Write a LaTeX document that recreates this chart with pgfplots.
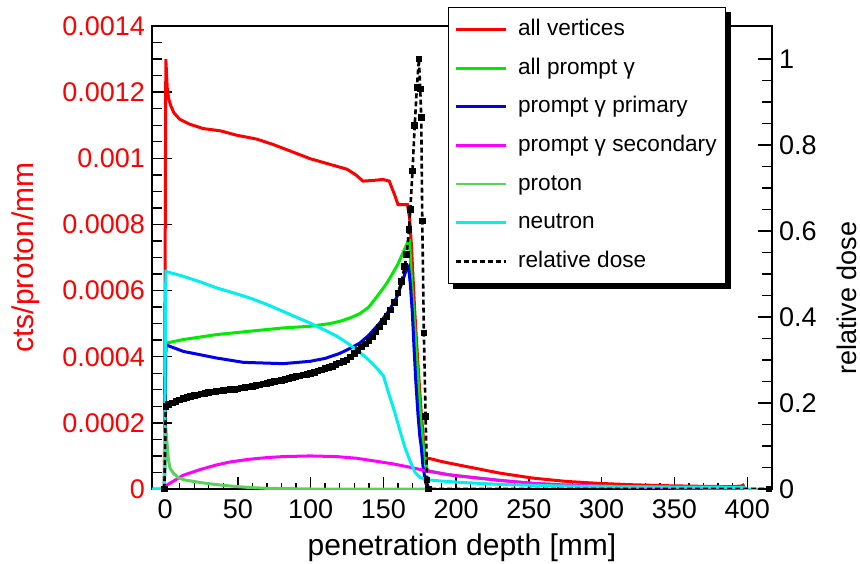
\documentclass[border=0pt]{standalone}
\usepackage{fontspec}
\setmainfont{Liberation Sans}
\usepackage{pgfplots}
\pgfplotsset{compat=1.18}
\definecolor{rred}{RGB}{255,0,0}
\definecolor{rgreen}{RGB}{0,235,0}
\definecolor{rblue}{RGB}{0,0,235}
\definecolor{rmagenta}{RGB}{255,0,255}
\definecolor{rproton}{RGB}{90,210,90}
\definecolor{rcyan}{RGB}{0,240,240}
\newcommand{\tickfont}{\fontsize{13.5bp}{16bp}\selectfont}
\newcommand{\titlefont}{\fontsize{15bp}{18bp}\selectfont}
\begin{document}
\begin{tikzpicture}
\useasboundingbox (-76bp,-37.5bp) rectangle (354bp,244.5bp);
\begin{axis}[
  scale only axis, width=310bp, height=231.5bp, at={(0,0)}, anchor=south west,
  xmin=-9, xmax=417, ymin=0, ymax=0.0014,
  tick pos=left, tick align=inside,
  xtick={0,50,100,150,200,250,300,350,400}, minor x tick num=4,
  ytick={0,0.0002,0.0004,0.0006,0.0008,0.001,0.0012,0.0014}, minor y tick num=3,
  scaled y ticks=false,
  /pgf/number format/assume math mode=true,
  tick label style={font=\tickfont},
  yticklabel style={red, /pgf/number format/fixed, /pgf/number format/precision=4},
  xticklabel style={yshift=-2bp},
  major tick length=10bp, minor tick length=5bp,
  every major x tick/.append style={/pgfplots/major tick length=6bp},
  every minor x tick/.append style={/pgfplots/minor tick length=3bp},
  axis line style={line width=0.8bp},
  every tick/.style={black, line width=0.7bp},
  xlabel={penetration depth [mm]}, ylabel={cts/proton/mm},
  xlabel style={font=\titlefont, at={(axis description cs:0.5,-0.127)}, anchor=center},
  ylabel style={red, font=\titlefont, at={(axis description cs:-0.203,0.5)}, anchor=center},
  legend cell align=left,
  legend image code/.code={\draw[#1, line width=1.4bp] (0bp,0bp) -- (25bp,0bp);},
  legend style={name=leg, at={(axis description cs:0.477,1.041)}, anchor=north west,
    draw=black, line width=0.6bp, fill=white,
    font=\fontsize{11.3bp}{13bp}\selectfont,
    row sep=5.3bp, inner xsep=3bp, inner ysep=4bp,
    /tikz/every odd column/.append style={column sep=4bp},
    nodes={inner sep=1.5bp, text height=8.5bp, text depth=2.5bp}},
]
\addplot[rred, line width=1.5bp] coordinates {
(-9,0) (-0.5,0) (0.5,0.0013) (1.5,0.00121) (2.5,0.00118) (4,0.001158) (6,0.001138)
(10,0.001118) (17,0.001103) (26,0.00109) (38,0.001083) (49,0.00107) (63,0.001058)
(74,0.001042) (86,0.001022) (99.5,0.000999) (113,0.000982) (125,0.000967) (131,0.00095)
(136,0.000931) (143,0.000933) (149.7,0.000936) (154,0.000931) (158,0.000886) (160,0.00086)
(166.5,0.00086) (168,0.00082) (169.2,0.00074) (171.5,0.00054) (173.7,0.00038) (176,0.00023)
(178.3,0.00011) (180,0.000092) (182,0.000092) (190,0.000083) (207,0.000068) (230,0.000048)
(252.6,0.000033) (275.5,0.000023) (298,0.000017) (320,0.000013) (344,0.00001) (370,0.000008)
(390,0.000007) (396,0.000009) (398,0.000014)
};
\addlegendentry{all vertices}
\addplot[rgreen, line width=1.5bp] coordinates {
(-0.5,0) (0.5,0.000441) (12.6,0.000452) (35.5,0.000467) (58,0.000477) (81,0.000487)
(99.5,0.000492) (113,0.0005) (120,0.000507) (127,0.000517) (133.7,0.00053) (140,0.00055)
(147.5,0.000593) (152,0.00062) (156.6,0.000654) (160,0.00068) (163.4,0.000714) (166.9,0.000748)
(168,0.00075) (169.2,0.00064) (171.5,0.00049) (173.7,0.00034) (176,0.00019) (178.3,0.0001)
(180,0.000058) (182,0.000054) (195,0.000043) (207,0.000037) (230,0.000026) (253,0.000017)
(275,0.000012) (298,0.000009) (344,0.000004) (398,0.000002)
};
\addlegendentry{all prompt γ}
\addplot[rblue, line width=1.5bp] coordinates {
(-0.5,0) (0.5,0.000436) (12.6,0.000416) (35.5,0.000396) (53.7,0.000383) (81,0.000379)
(99.5,0.000386) (110,0.000395) (120,0.00041) (127,0.000425) (133.7,0.000441) (140,0.000465)
(147.5,0.000502) (154,0.00054) (159,0.000578) (162.5,0.00062) (165.8,0.000664) (167.3,0.000672)
(168.5,0.00062) (169.9,0.000532) (171,0.000431) (172.2,0.00033) (173.7,0.000229) (175,0.00016)
(176,0.000128) (177.2,0.000068) (179,0.00002) (180.6,0) (182,0)
};
\addlegendentry{prompt γ primary}
\addplot[rmagenta, line width=1.5bp] coordinates {
(-0.5,0) (0.5,0.00001) (5,0.000022) (12.6,0.000042) (25,0.00006) (35.5,0.000073) (45,0.000082)
(58,0.00009) (70,0.000095) (81,0.000098) (99.5,0.0001) (118,0.000098) (131.5,0.000093)
(145,0.000084) (156.6,0.000076) (168,0.000066) (179.5,0.000055) (195,0.000043) (207,0.000037)
(230,0.000026) (253,0.000017) (275,0.000012) (298,0.000009) (320,0.000006) (344,0.000004)
(370,0.000003) (398,0.000002)
};
\addlegendentry{prompt γ secondary}
\addplot[rproton, line width=1.5bp] coordinates {
(-0.5,0) (0.5,0.000185) (1.5,0.00013) (2.3,0.000088) (3.4,0.000063) (5.7,0.000048) (9.1,0.000034)
(13.7,0.000027) (18.3,0.000024) (25,0.000019) (32,0.000015) (40,0.000011) (50,0.000007)
(60,0.000004) (70,0.000002) (85,0.000001) (100,0) (181,0)
};
\addlegendentry{proton}
\addplot[rcyan, line width=1.5bp] coordinates {
(-9,0) (-0.5,0) (0.5,0.000658) (12.6,0.000643) (25,0.000625) (35.5,0.000608) (47,0.000593)
(58,0.000578) (70,0.000558) (81,0.000537) (90,0.00052) (99.5,0.000502) (110,0.00048)
(118,0.000462) (125,0.000442) (131.5,0.000421) (138,0.000398) (145,0.000368) (150,0.000342)
(154.3,0.00028) (157.8,0.000232) (161.2,0.000179) (164.6,0.000128) (168,0.000088)
(171.5,0.000052) (175,0.000035) (180,0.000028) (190,0.000024) (207,0.000019) (230,0.000014)
(253,0.000011) (298,0.000007) (350,0.000006) (398,0.000005) (399,0) (417,0)
};
\addlegendentry{neutron}
\addlegendimage{black, dash pattern=on 2.5bp off 1.5bp}
\addlegendentry{relative dose}
\end{axis}
\fill[black] ([shift={(2.5bp,-2.5bp)}]leg.south west) rectangle ([xshift=2.5bp]leg.south east);
\fill[black] ([yshift=-2.5bp]leg.south east) rectangle ([shift={(2.5bp,-2.5bp)}]leg.north east);
\begin{axis}[
  scale only axis, width=310bp, height=231.5bp, at={(0,0)}, anchor=south west,
  xmin=-9, xmax=417, ymin=0, ymax=1.0769,
  hide x axis, axis y line*=right, tick align=inside,
  ytick={0,0.2,0.4,0.6,0.8,1}, minor y tick num=3,
  major tick length=7bp, minor tick length=5bp,
  /pgf/number format/assume math mode=true,
  yticklabel style={font=\tickfont},
  axis line style={line width=0.8bp},
  every tick/.style={black, line width=0.7bp},
  ylabel={relative dose},
  ylabel style={font=\fontsize{13.5bp}{16bp}\selectfont, at={(axis description cs:1.121,0.4125)}, anchor=center},
]
\addplot[black, line width=1.3bp, dash pattern=on 2.5bp off 1.5bp, mark=square*, mark size=1bp, mark options={solid}] coordinates {
(-0.5,0) (0.5,0.192) (2.5,0.196) (5,0.2) (7.5,0.204) (10,0.207) (12.5,0.21) (15,0.213)
(17.5,0.215) (20,0.217) (22.5,0.219) (25,0.221) (27.5,0.2225) (30,0.224) (32.5,0.2255)
(35,0.227) (37.5,0.228) (40,0.229) (42.5,0.23) (45,0.231) (47.5,0.232) (50,0.233)
(52.5,0.2345) (55,0.236) (57.5,0.2375) (60,0.239) (62.5,0.2405) (65,0.242) (67.5,0.244)
(70,0.246) (72.5,0.248) (75,0.25) (77.5,0.2515) (80,0.253) (82.5,0.255) (85,0.257)
(87.5,0.259) (90,0.261) (92.5,0.263) (95,0.265) (97.5,0.267) (100,0.269) (102.5,0.2715)
(105,0.274) (107.5,0.277) (110,0.28) (112.5,0.2825) (115,0.285) (117.5,0.289) (120,0.293)
(122.5,0.2965) (125,0.3) (127.5,0.307) (130,0.315) (132.5,0.322) (135,0.33) (137.5,0.337)
(140,0.345) (142.5,0.355) (145,0.365) (147.5,0.377) (150,0.39) (152.5,0.401) (155,0.416)
(157.5,0.434) (160,0.456) (162.5,0.483) (164.6,0.518) (166,0.545) (167.6,0.604) (168.5,0.65)
(170,0.74) (171.5,0.845) (173,0.934) (174.4,1.0) (175.3,0.93) (176,0.864) (176.7,0.623)
(177.8,0.363) (179,0.168) (180,0.021) (181,0) (415,0)
};
\end{axis}
\end{tikzpicture}
\end{document}
